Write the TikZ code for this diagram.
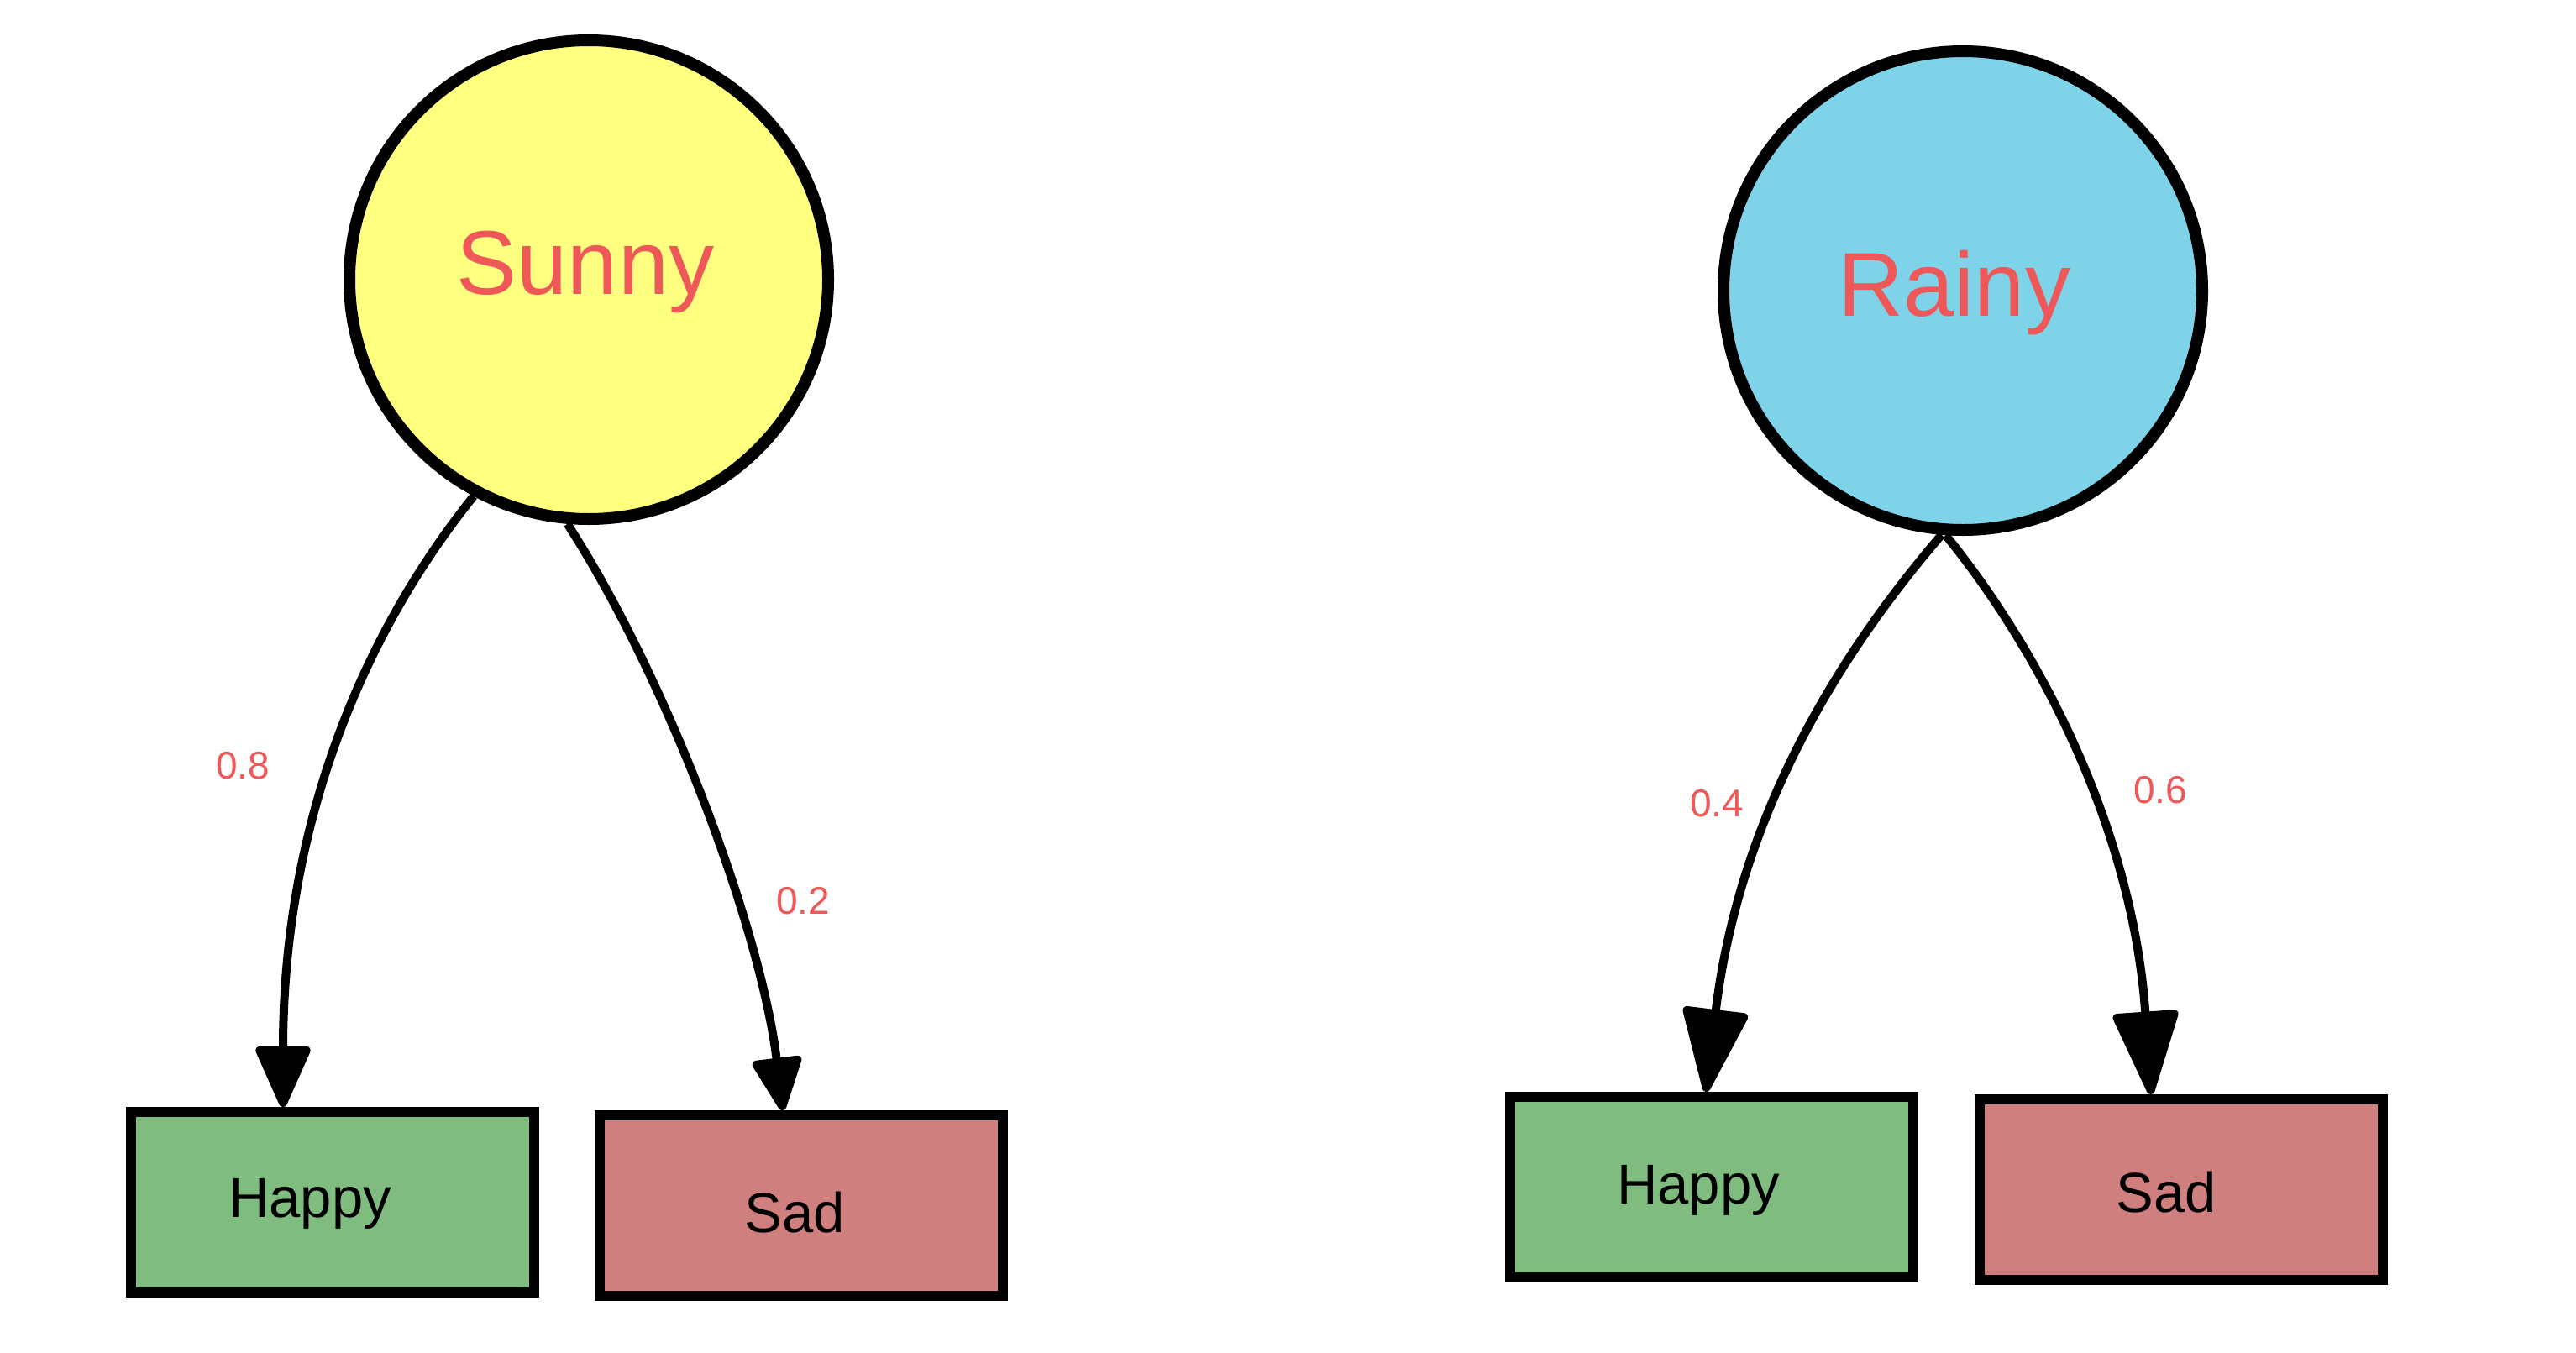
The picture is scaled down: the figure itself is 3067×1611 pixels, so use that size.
\documentclass[tikz,border=0pt]{standalone}
\usepackage{fontspec}
\setmainfont{Liberation Sans}
\usetikzlibrary{arrows.meta}
\definecolor{sunfill}{RGB}{255,255,128}
\definecolor{rainfill}{RGB}{127,211,232}
\definecolor{happyfill}{RGB}{128,187,128}
\definecolor{sadfill}{RGB}{208,127,127}
\definecolor{txtred}{RGB}{238,88,88}
\begin{document}
\begin{tikzpicture}[x=1pt,y=-1pt,
  state/.style={circle, draw=black, line width=14pt, minimum size=570pt, inner sep=0pt},
  outbox/.style={rectangle, draw=black, line width=12pt, minimum width=480pt, minimum height=215pt, inner sep=0pt},
  bigtxt/.style={text=txtred, inner sep=0pt, anchor=base, font=\fontsize{108}{120}\selectfont},
  boxtxt/.style={text=black, inner sep=0pt, anchor=base, font=\fontsize{67}{72}\selectfont},
  prob/.style={text=txtred, inner sep=0pt, anchor=base, font=\fontsize{46}{50}\selectfont},
  conn/.style={line width=10pt, line join=round, draw=black}]
\useasboundingbox (0,0) rectangle (3067,1611);
\fill[white] (0,0) rectangle (3067,1611);

% Sunny cluster
\node[state, fill=sunfill] (sunny) at (701,333) {};
\node[bigtxt] (sunnyt) at (697,350) {Sunny};
\node[outbox, fill=happyfill] (h1) at (396,1431.5) {};
\node[boxtxt] (h1t) at (369,1449) {Happy};
\node[outbox, fill=sadfill] (s1) at (954,1435.5) {};
\node[boxtxt] (s1t) at (946,1467) {Sad};

% Rainy cluster
\node[state, fill=rainfill] (rainy) at (2337,346) {};
\node[bigtxt] (rainyt) at (2327,376) {Rainy};
\node[outbox, fill=happyfill] (h2) at (2038,1413.5) {};
\node[boxtxt] (h2t) at (2022,1433) {Happy};
\node[outbox, fill=sadfill] (s2) at (2596.5,1416.5) {};
\node[boxtxt] (s2t) at (2579,1443) {Sad};

% connectors
\draw[conn, -{Triangle[length=80pt,width=68pt,round]}]
  (sunny.242) .. controls (420,770) and (337,1000) .. ([xshift=-59pt]h1.north);
\draw[conn, -{Triangle[length=70pt,width=62pt,round]}]
  (sunny.265) .. controls (790,800) and (905,1100) .. ([xshift=-22pt]s1.north);
\draw[conn, -{Triangle[length=108pt,width=80pt,round]}]
  (rainy.265) .. controls (2180,790) and (2070,980) .. ([xshift=-7pt]h2.north);
\draw[conn, -{Triangle[length=108pt,width=80pt,round]}]
  (rainy.266) .. controls (2440,790) and (2540,1000) .. ([xshift=-35.5pt]s2.north);

% probabilities
\node[prob] (p08) at (289,927) {0.8};
\node[prob] (p02) at (956,1088) {0.2};
\node[prob] (p04) at (2044,972) {0.4};
\node[prob] (p06) at (2572,956) {0.6};
\end{tikzpicture}
\end{document}
